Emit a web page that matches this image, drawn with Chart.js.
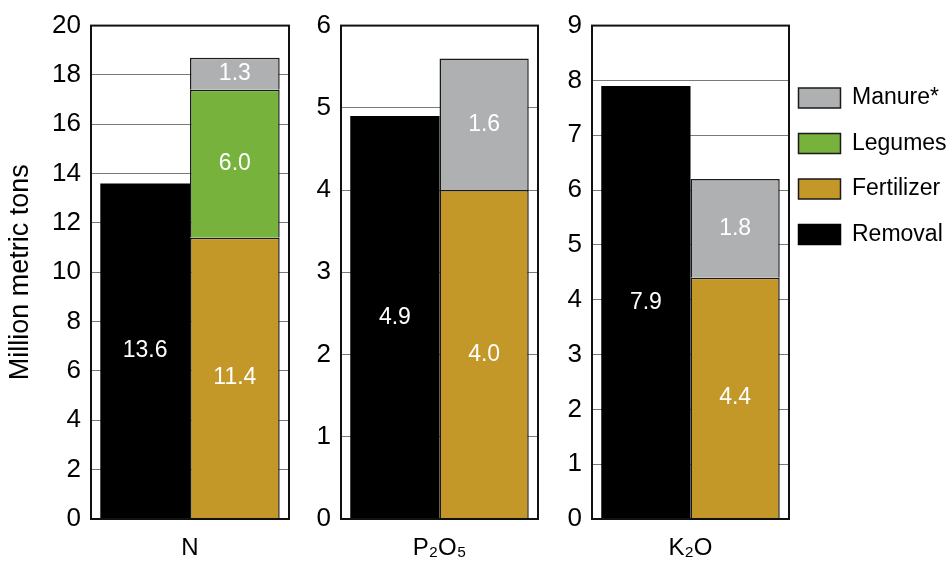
<!DOCTYPE html>
<html><head><meta charset="utf-8">
<script src="https://cdn.jsdelivr.net/npm/chart.js@4"></script>
<style>
html,body{margin:0;padding:0;background:#fff;width:951px;height:562px;overflow:hidden;position:relative;}
canvas{position:absolute;top:0;}
</style></head><body>
<canvas id="c0" style="left:0px" width="300" height="562"></canvas>
<canvas id="c1" style="left:300px" width="250" height="562"></canvas>
<canvas id="c2" style="left:550px" width="245" height="562"></canvas>
<canvas id="cl" style="left:776px" width="360" height="562"></canvas>
<script>
// ---- data ----
const categories = ['N', 'P\u2082O\u2085', 'K\u2082O'];
const removal    = [13.6, 4.9, 7.9];
const fertilizer = [11.4, 4.0, 4.4];
const legumes    = [6.0, null, null];
const manure     = [1.3, 1.6, 1.8];
const yMax       = [20, 6, 9];
const yStep      = [2, 1, 1];
const seriesNames = ['Removal', 'Fertilizer', 'Legumes', 'Manure*'];
const axisTitle = 'Million metric tons';

// ---- style ----
const FONT = '"Liberation Sans", Arial, Helvetica, sans-serif';
Chart.defaults.font.family = FONT;
Chart.defaults.color = '#000';
const colors = {Removal:'#000000', Fertilizer:'#c49729', Legumes:'#77b23d', 'Manure*':'#afb0b2'};
const edge = '#1a1a1a';

const panelLayout = [
  {id:'c0', axisW:91, padR:11, title:true},
  {id:'c1', axisW:41, padR:12, title:false},
  {id:'c2', axisW:42, padR:6,  title:false}
];

const framePlugin = {
  id:'frame',
  afterDatasetsDraw(chart){
    const a = chart.chartArea, ctx = chart.ctx;
    ctx.save();
    ctx.strokeStyle = '#111';
    ctx.lineWidth = 2;
    ctx.strokeRect(a.left, a.top, a.right - a.left, a.bottom - a.top);
    ctx.restore();
  }
};
const labelPlugin = {
  id:'segLabels',
  afterDatasetsDraw(chart){
    const ctx = chart.ctx;
    ctx.save();
    ctx.fillStyle = '#fff';
    ctx.font = '23px ' + FONT;
    ctx.textAlign = 'center';
    ctx.textBaseline = 'middle';
    chart.data.datasets.forEach((ds, di) => {
      const meta = chart.getDatasetMeta(di);
      meta.data.forEach((el, i) => {
        const v = ds.data[i];
        if (v === null || v === undefined) return;
        const p = el.getProps(['x','y','base'], true);
        ctx.fillText(v.toFixed(1), p.x, (p.y + p.base) / 2);
      });
    });
    ctx.restore();
  }
};

function makeDatasets(i){
  const vals = {Removal:removal[i], Fertilizer:fertilizer[i], Legumes:legumes[i], 'Manure*':manure[i]};
  return seriesNames.map(n => ({
    label:n,
    data:[vals[n]],
    backgroundColor:colors[n],
    borderColor:edge,
    borderWidth: n === 'Removal' ? 0 : 1.5,
    stack: n === 'Removal' ? 'out' : 'in',
    categoryPercentage:0.906,
    barPercentage:1.0
  }));
}

panelLayout.forEach((pl, i) => {
  new Chart(document.getElementById(pl.id), {
    type:'bar',
    data:{labels:[categories[i]], datasets:makeDatasets(i)},
    options:{
      responsive:false, animation:false,
      layout:{padding:{top:22, right:pl.padR, left:0, bottom:0}},
      plugins:{legend:{display:false}, tooltip:{enabled:false}},
      scales:{
        x:{
          stacked:true, offset:true,
          grid:{display:false}, border:{display:false},
          ticks:{font:{size:24}, color:'#000', padding:7},
          afterFit(s){ s.height = 43; }
        },
        y:{
          stacked:true, min:0, max:yMax[i],
          ticks:{stepSize:yStep[i], font:{size:26}, color:'#000', padding:10},
          grid:{color:'#7a7a7a', lineWidth:1, drawTicks:false},
          border:{display:false},
          title:{display:pl.title, text:axisTitle, font:{size:27}, color:'#000', padding:{top:4, bottom:0}},
          afterFit(s){ s.width = pl.axisW; }
        }
      }
    },
    plugins:[framePlugin, labelPlugin]
  });
});

// legend (order as in the reference)
const legendOrder = ['Manure*', 'Legumes', 'Fertilizer', 'Removal'];
new Chart(document.getElementById('cl'), {
  type:'bar',
  data:{labels:[], datasets:legendOrder.map(n => ({
    label:n, data:[], backgroundColor:colors[n],
    borderColor: n === 'Removal' ? '#000' : edge, borderWidth:1.5
  }))},
  options:{
    responsive:false, animation:false,
    layout:{padding:{top:64, left:0, right:0, bottom:0}},
    scales:{x:{display:false}, y:{display:false}},
    plugins:{
      tooltip:{enabled:false},
      legend:{
        position:'left', align:'start',
        labels:{boxWidth:42, boxHeight:20, padding:22.5, font:{size:23}, color:'#000'}
      }
    }
  }
});
</script>
</body></html>
